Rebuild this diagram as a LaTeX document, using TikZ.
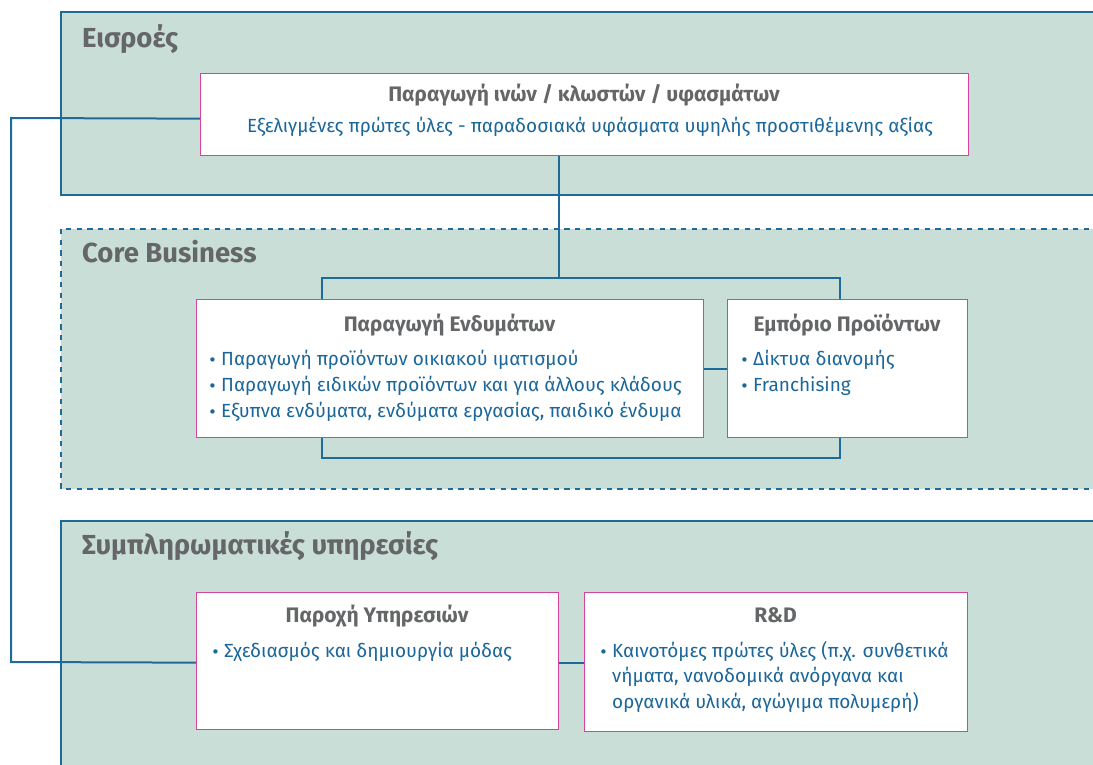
\documentclass[tikz,border=0pt]{standalone}
\usepackage{fontspec}
\setmainfont{Fira Sans}
\newfontfamily\dejavu{DejaVu Sans}
\usetikzlibrary{calc}
\definecolor{panelfill}{HTML}{C8DED7}
\definecolor{lineblue}{HTML}{1D6A9B}
\definecolor{boxpink}{HTML}{D4449E}
\definecolor{titlegray}{HTML}{656668}
\definecolor{textblue}{HTML}{1B679A}
\tikzset{
  panel/.style={fill=panelfill, draw=lineblue, line width=2pt},
  dpanel/.style={fill=panelfill, draw=lineblue, line width=2pt, dash pattern=on 5.3pt off 5.3pt},
  box/.style={draw=boxpink, fill=white, line width=1.3pt, inner sep=0pt, anchor=north west},
  conn/.style={draw=lineblue, line width=2pt},
  ptitle/.style={font=\fontsize{27.5}{32}\selectfont\bfseries, text=titlegray, inner sep=0pt, anchor=base west},
  btitle/.style={font=\fontsize{21}{25}\selectfont\bfseries, text=titlegray, inner sep=0pt, anchor=base},
  btext/.style={font=\fontsize{19}{23}\selectfont, text=textblue, inner sep=0pt, anchor=base west},
  ctext/.style={font=\fontsize{19}{23}\selectfont, text=textblue, inner sep=0pt, anchor=base},
}
\newcommand{\bul}{\makebox[13pt][l]{{\dejavu\fontsize{15}{15}\selectfont •}}}
\begin{document}
\begin{tikzpicture}[x=1pt,y=-1pt]
\useasboundingbox (0,0) rectangle (1093,765);
\begin{scope}
\clip (0,0) rectangle (1093,765);
\path[panel] (61,12) rectangle (1110,195);
\path[dpanel] (61,229) rectangle (1110,489);
\path[panel] (61,521) rectangle (1110,790);
\end{scope}

% panel titles
\node[ptitle] (tIn) at (82,48) {Εισροές};
\node[ptitle] (tCore) at (82,262) {Core Business};
\node[ptitle] (tSup) at (82,554) {Συμπληρωματικές υπηρεσίες};

% boxes
\node[box, minimum width=768pt, minimum height=82pt] (top) at (200,73) {};
\node[box, minimum width=507pt, minimum height=138pt] (endy) at (196,299) {};
\node[box, minimum width=240pt, minimum height=138pt] (emp) at (727,299) {};
\node[box, minimum width=362pt, minimum height=137pt] (paro) at (196,592) {};
\node[box, minimum width=383pt, minimum height=139pt] (rd) at (584,592) {};

% texts top box
\node[btitle] (topT) at (584,102) {Παραγωγή ινών / κλωστών / υφασμάτων};
\node[ctext] (topS) at (590,133) {Εξελιγμένες πρώτες ύλες - παραδοσιακά υφάσματα υψηλής προστιθέμενης αξίας};

% Παραγωγή Ενδυμάτων
\node[btitle] (endyT) at (449.5,331) {Παραγωγή Ενδυμάτων};
\node[btext] (endy1) at (208,365) {\bul Παραγωγή προϊόντων οικιακού ιματισμού};
\node[btext] (endy2) at (208,391) {\bul Παραγωγή ειδικών προϊόντων και για άλλους κλάδους};
\node[btext] (endy3) at (208,417) {\bul Εξυπνα ενδύματα, ενδύματα εργασίας, παιδικό ένδυμα};

% Εμπόριο Προϊόντων
\node[btitle] (empT) at (847,331) {Εμπόριο Προϊόντων};
\node[btext] (emp1) at (740,365) {\bul Δίκτυα διανομής};
\node[btext] (emp2) at (740,391) {\bul Franchising};

% Παροχή Υπηρεσιών
\node[btitle] (paroT) at (377,622) {Παροχή Υπηρεσιών};
\node[btext] (paro1) at (211,657) {\bul Σχεδιασμός και δημιουργία μόδας};

% R&D
\node[btitle] (rdT) at (775.5,622) {R\&D};
\node[btext] (rd1) at (599,657) {\bul Καινοτόμες πρώτες ύλες (π.χ. συνθετικά};
\node[btext] (rd2) at (599,682) {\hspace*{13pt}νήματα, νανοδομικά ανόργανα και};
\node[btext] (rd3) at (599,708) {\hspace*{13pt}οργανικά υλικά, αγώγιμα πολυμερή)};

% connectors
\coordinate (lt) at (11,118);
\coordinate (lb) at (11,662);
\coordinate (hub) at (559,278);
\coordinate (bL) at (322,278);
\coordinate (bR) at (840,278);
\coordinate (cL) at (322,458);
\coordinate (cR) at (840,458);
\draw[conn] ([yshift=-4pt]top.west) -- (lt) -- (lb) -- ([yshift=-1.5pt]paro.west);
\draw[conn] (top.south -| hub) -- (hub);
\draw[conn] (endy.north -| bL) -- (bL) -- (bR) -- (emp.north -| bR);
\draw[conn] (endy.south -| cL) -- (cL) -- (cR) -- (emp.south -| cR);
\draw[conn] (endy.east) -- (emp.west);
\draw[conn] ([yshift=-1.5pt]paro.east) -- ([yshift=-1.5pt]paro.east -| rd.west);
\end{tikzpicture}
\end{document}
